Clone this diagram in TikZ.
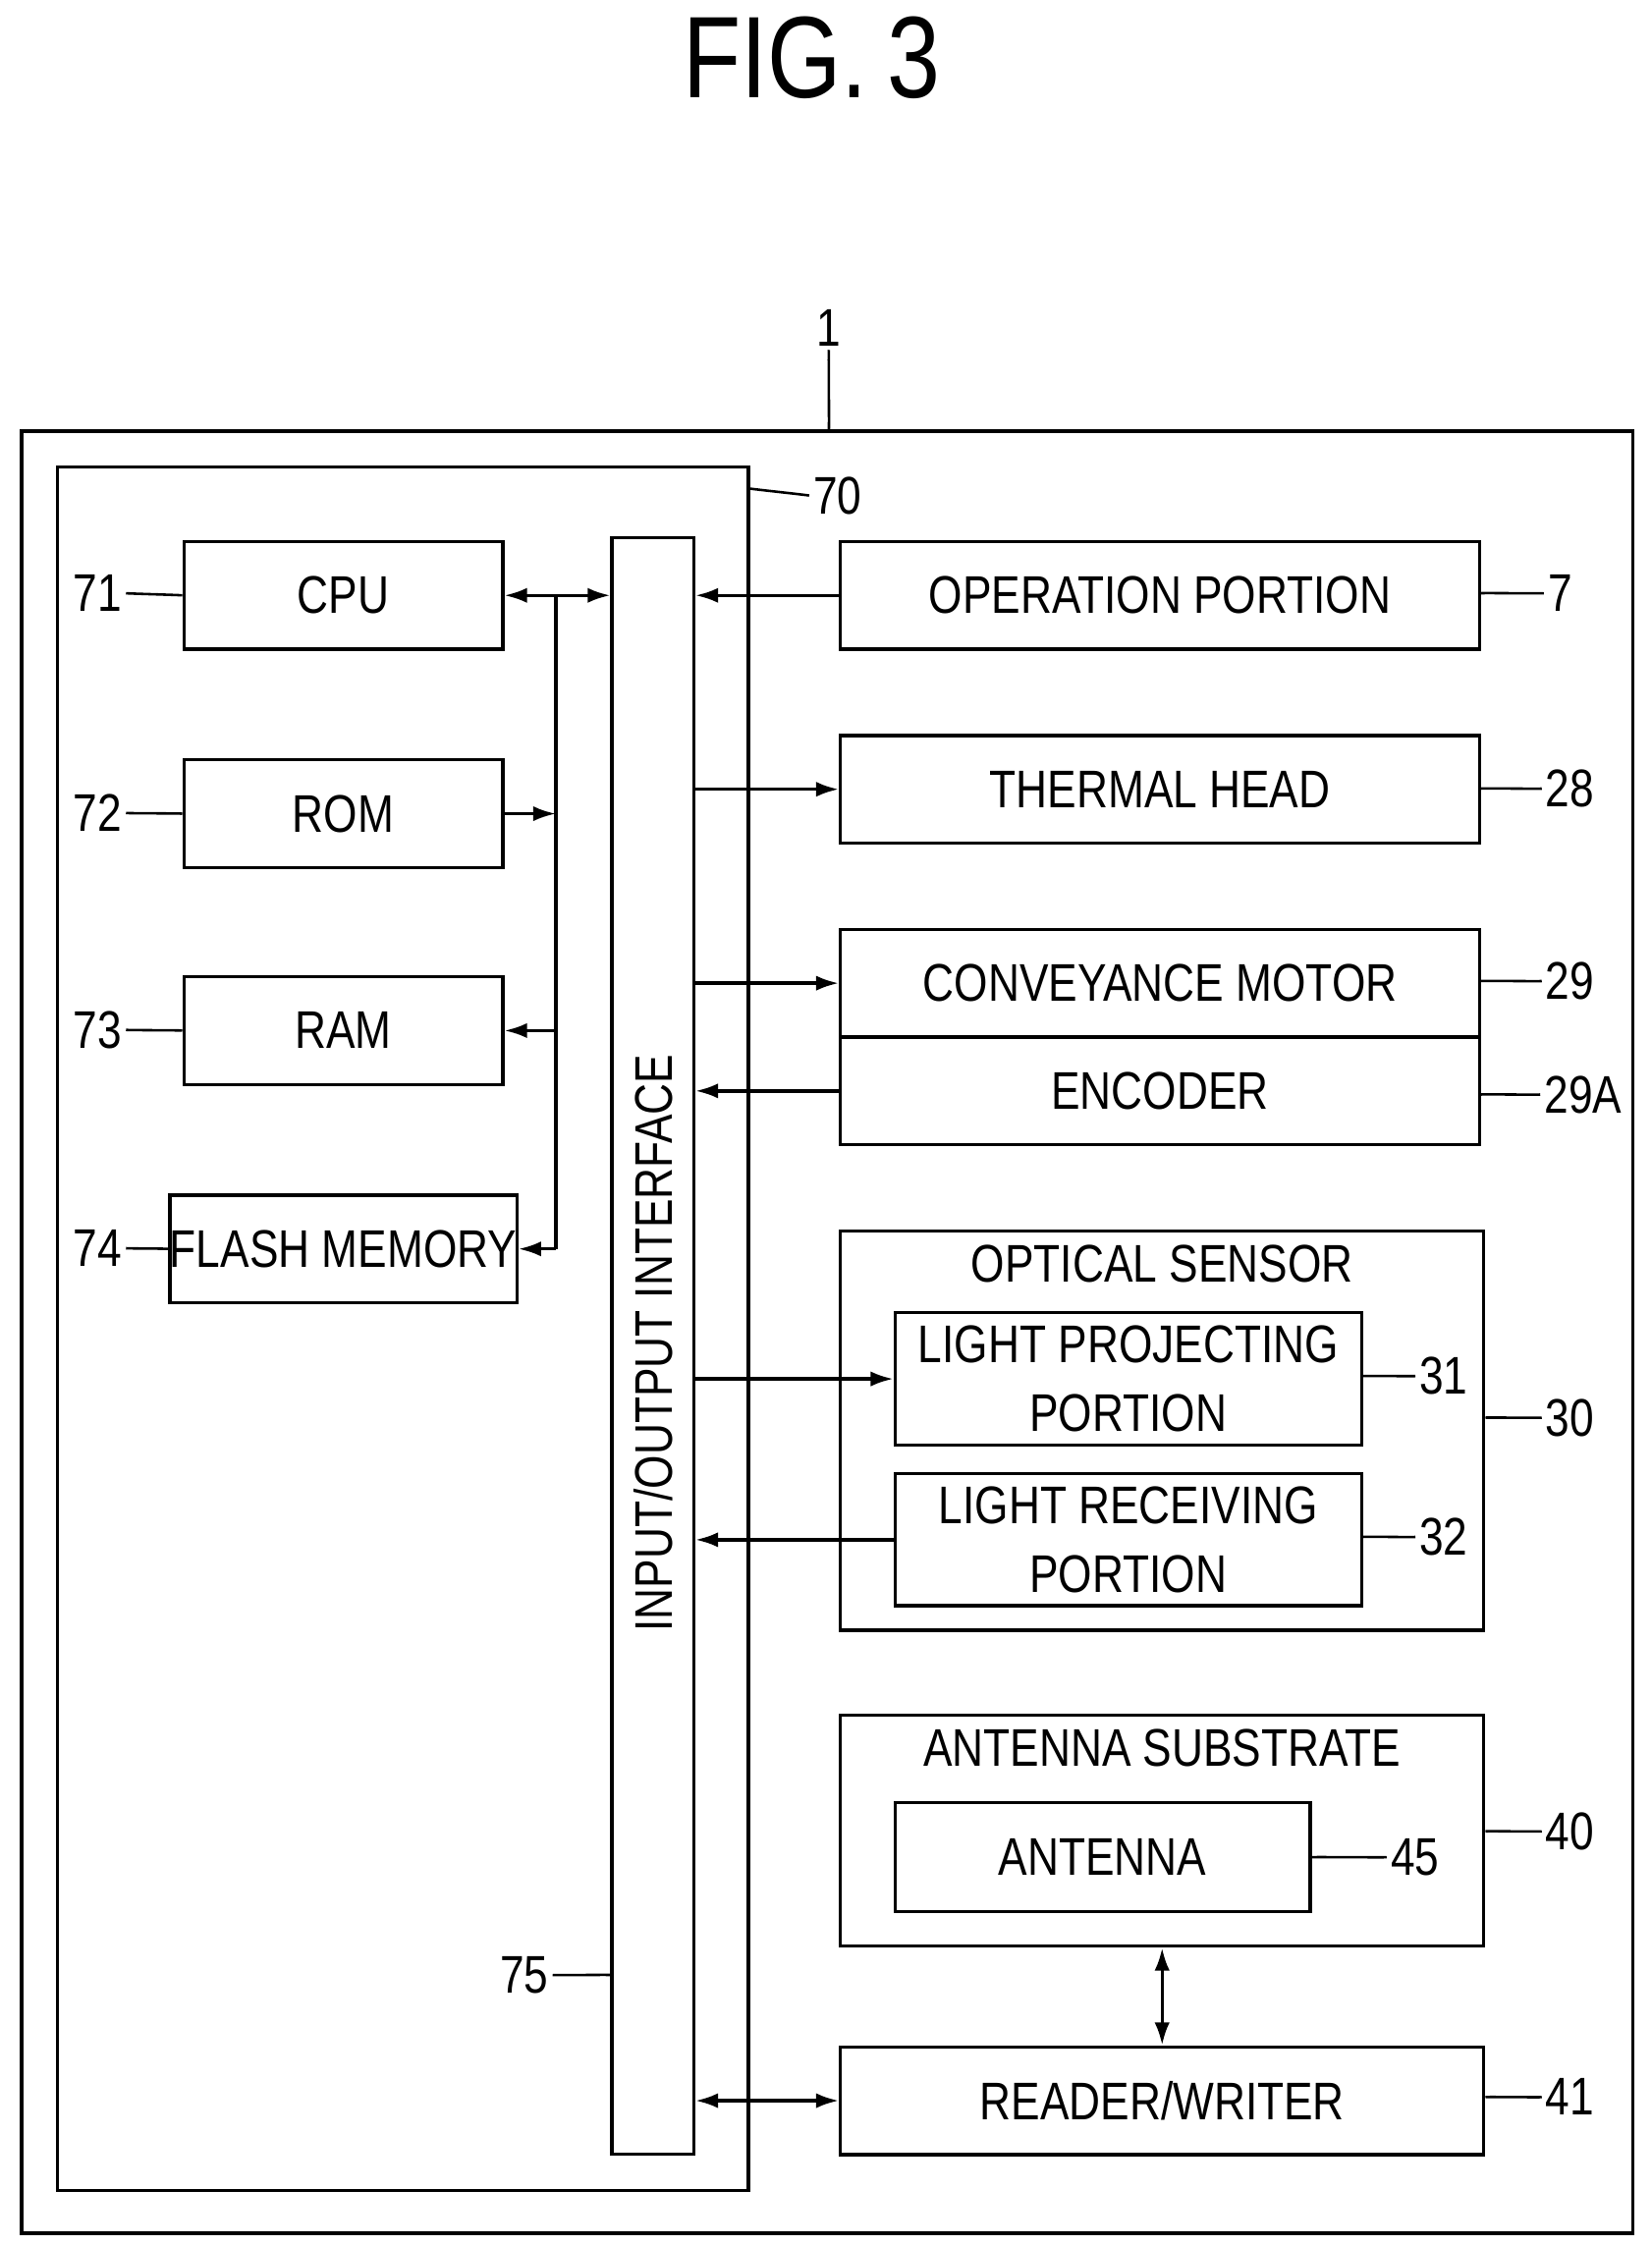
\documentclass[tikz,border=0pt]{standalone}
\usepackage{fontspec}
\setmainfont[FakeStretch=0.82]{Liberation Sans}
\usetikzlibrary{arrows.meta}

\begin{document}
\begin{tikzpicture}[x=0.02cm,y=-0.02cm,line width=1.3pt,
   >={Latex[length=9pt,width=6pt]},
   box/.style 2 args={draw, minimum width=#1cm, minimum height=#2cm, inner sep=0pt,
      font=\fontsize{21}{27}\selectfont, align=center},
   num/.style={font=\fontsize{21}{27}\selectfont, inner sep=1pt},
   lead/.style={line width=1pt}]
   \useasboundingbox (0,0) rectangle (1150,1563);

\node[font=\fontsize{46}{50}\selectfont] (title) at (565,40) {FIG.\,3};

%boxes--------------------------
\node[box={22.44}{25.1}] (outer) at (576,927.5) {};
\node[box={9.62}{24}] (ctrl) at (280.5,925) {};

\node[box={4.44}{1.5}] (cpu) at (239,414.5) {CPU};
\node[box={4.44}{1.5}] (rom) at (239,566.5) {ROM};
\node[box={4.44}{1.5}] (ram) at (239,717.5) {RAM};
\node[box={4.44}{1.5}] (flash) at (239,869.5) {FLASH MEMORY};

\node[box={1.14}{22.52}] (io) at (454.5,937) {};
\node[rotate=90, font=\fontsize{21}{27}\selectfont] (iotext) at (454.5,935) {INPUT/OUTPUT INTERFACE};

\node[box={8.9}{1.5}] (op) at (807.5,414.5) {OPERATION PORTION};
\node[box={8.9}{1.5}] (head) at (807.5,549.5) {THERMAL HEAD};
\node[box={8.9}{1.5}] (motor) at (807.5,684.5) {CONVEYANCE MOTOR};
\node[box={8.9}{1.5}] (enc) at (807.5,759.5) {ENCODER};

\node[box={8.96}{5.56}] (opt) at (809,996) {};
\node[num] (opttext) at (809,880) {OPTICAL SENSOR};
\node[box={6.5}{1.84}] (proj) at (785.5,960) {LIGHT PROJECTING\\PORTION};
\node[box={6.5}{1.84}] (recv) at (785.5,1072) {LIGHT RECEIVING\\PORTION};

\node[box={8.96}{3.22}] (sub) at (809,1274.5) {};
\node[num] (subtext) at (809,1217) {ANTENNA SUBSTRATE};
\node[box={5.78}{1.52}] (ant) at (767.5,1293) {ANTENNA};

\node[box={8.96}{1.5}] (rw) at (809,1462.5) {READER/WRITER};

%labels-------------------------
\node[num] (l1) at (577,228) {1};
\node[num] (l70) at (583,345) {70};
\node[num] (l71) at (68,413) {71};
\node[num] (l72) at (68,566) {72};
\node[num] (l73) at (68,717) {73};
\node[num] (l74) at (68,869) {74};
\node[num] (l75) at (365,1375) {75};
\node[num] (l7) at (1086,413) {7};
\node[num] (l28) at (1093,549) {28};
\node[num] (l29) at (1093,683) {29};
\node[num] (l29a) at (1102,762) {29A};
\node[num] (l31) at (1005,958) {31};
\node[num] (l32) at (1005,1070) {32};
\node[num] (l30) at (1093,987) {30};
\node[num] (l45) at (985,1293) {45};
\node[num] (l40) at (1093,1275) {40};
\node[num] (l41) at (1093,1460) {41};

%leaders------------------------
\draw[lead] (l1.south) .. controls +(-0.3,0.6) and +(0.3,-0.6) .. (outer.north -| l1);
\coordinate (c70) at (521,340);
\draw[lead] (c70) .. controls +(0.5,0.3) and +(-0.5,-0.3) .. (l70.west);
\foreach \n/\b in {l71/cpu,l72/rom,l73/ram,l74/flash}{
   \draw[lead] (\n.east) .. controls +(0.4,0.25) and +(-0.4,-0.25) .. (\b.west);
}
\draw[lead] (l75.east) .. controls +(0.4,0.25) and +(-0.4,-0.25) .. (io.west |- l75);
\foreach \n/\b in {l7/op,l28/head,l29/motor,l31/proj,l32/recv,l30/opt,l45/ant,l40/sub,l41/rw}{
   \draw[lead] (\b.east |- \n) .. controls +(0.4,-0.25) and +(-0.4,0.25) .. (\n.west);
}
\draw[lead] (enc.east |- l29a) .. controls +(0.4,-0.25) and +(-0.4,0.25) .. (l29a.west);

%bus----------------------------
\coordinate (bus1) at (387,414.5);
\coordinate (bus2) at (387,869.5);
\draw (bus1) -- (bus2);
\draw[<->] (cpu.east) -- (io.west |- cpu);
\draw[->] (rom.east) -- (rom.east -| bus1);
\draw[->] (ram.east -| bus1) -- (ram.east);
\draw[->] (flash.east -| bus1) -- (flash.east);

%io arrows----------------------
\draw[->] (op.west) -- (io.east |- op);
\draw[->] (io.east |- head) -- (head.west);
\draw[->] (io.east |- motor) -- (motor.west);
\draw[->] (enc.west) -- (io.east |- enc);
\draw[->] (io.east |- proj) -- (proj.west);
\draw[->] (recv.west) -- (io.east |- recv);
\draw[<->] (io.east |- rw) -- (rw.west);
\draw[<->] (sub.south) -- (rw.north);

\end{tikzpicture}
\end{document}
